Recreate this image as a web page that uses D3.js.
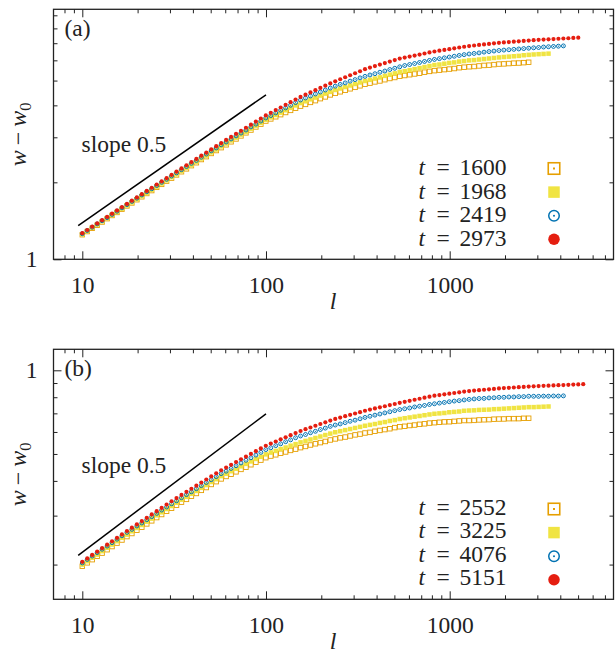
<!DOCTYPE html>
<html>
<head>
<meta charset="utf-8">
<script src="https://cdn.jsdelivr.net/npm/d3@7"></script>
<style>
  body { margin: 0; background: #fff; }
</style>
</head>
<body>
<script>
'use strict';

// system size l, shared by every series (each series stops at its own last point)
const lValues = [
  10, 10.64, 11.32, 12.05, 12.82, 13.65, 14.52, 15.45, 16.44, 17.50,
  18.62, 19.82, 21.09, 22.44, 23.88, 25.41, 27.04, 28.77, 30.62, 32.58,
  34.67, 36.90, 39.26, 41.78, 44.46, 47.32, 50.35, 53.58, 57.02, 60.67,
  64.57, 68.71, 73.11, 77.80, 82.79, 88.10, 93.76, 99.77, 106.2, 113.0,
  120.2, 127.9, 136.1, 144.9, 154.2, 164.1, 174.6, 185.8, 197.7, 210.4,
  223.9, 238.2, 253.5, 269.8, 287.1, 305.5, 325.1, 345.9, 368.1, 391.7,
  416.9, 443.6, 472.1, 502.3, 534.6, 568.9, 605.3, 644.2, 685.5, 729.4,
  776.2, 826.0, 879.0, 935.4, 995.4, 1059, 1127, 1199, 1276, 1358,
  1445, 1538, 1637, 1742, 1854, 1972, 2099, 2234, 2377, 2529,
  2692, 2864, 3048, 3243, 3451, 3673, 3908, 4159, 4426, 4710,
  5012, 5333
];

// panel (a): w - w0
const wA1600 = [
  1.248, 1.284, 1.323, 1.359, 1.399, 1.442, 1.484, 1.525, 1.571, 1.617,
  1.661, 1.710, 1.756, 1.809, 1.857, 1.912, 1.964, 2.022, 2.077, 2.138,
  2.200, 2.258, 2.324, 2.386, 2.456, 2.520, 2.594, 2.663, 2.733, 2.804,
  2.881, 2.956, 3.038, 3.123, 3.203, 3.293, 3.378, 3.473, 3.540, 3.609,
  3.679, 3.751, 3.823, 3.898, 3.972, 4.035, 4.108, 4.173, 4.249, 4.316,
  4.394, 4.458, 4.519, 4.580, 4.643, 4.705, 4.770, 4.836, 4.886, 4.940,
  4.983, 5.039, 5.095, 5.141, 5.198, 5.233, 5.270, 5.306, 5.343, 5.393,
  5.431, 5.467, 5.493, 5.519, 5.546, 5.573, 5.614, 5.641, 5.662, 5.676,
  5.704, 5.731, 5.745, 5.774, 5.801, 5.810, 5.829, 5.849, 5.856, 5.876,
  5.896
];
const wA1968 = [
  1.253, 1.290, 1.329, 1.368, 1.409, 1.448, 1.491, 1.532, 1.578, 1.624,
  1.669, 1.718, 1.768, 1.817, 1.870, 1.925, 1.978, 2.036, 2.096, 2.153,
  2.215, 2.279, 2.340, 2.408, 2.478, 2.544, 2.618, 2.687, 2.765, 2.836,
  2.915, 2.990, 3.073, 3.152, 3.240, 3.331, 3.417, 3.513, 3.589, 3.668,
  3.747, 3.829, 3.912, 3.998, 4.083, 4.148, 4.223, 4.290, 4.368, 4.447,
  4.516, 4.594, 4.656, 4.719, 4.784, 4.849, 4.915, 4.982, 5.034, 5.090,
  5.146, 5.216, 5.274, 5.334, 5.406, 5.442, 5.493, 5.543, 5.595, 5.647,
  5.700, 5.751, 5.778, 5.820, 5.861, 5.889, 5.933, 5.961, 5.997, 6.013,
  6.043, 6.071, 6.100, 6.130, 6.159, 6.183, 6.203, 6.224, 6.246, 6.282,
  6.303, 6.325, 6.342, 6.356, 6.373
];
const wA2419 = [
  1.259, 1.296, 1.335, 1.375, 1.415, 1.455, 1.498, 1.542, 1.589, 1.636,
  1.684, 1.734, 1.785, 1.838, 1.887, 1.943, 2.000, 2.055, 2.116, 2.178,
  2.241, 2.305, 2.373, 2.436, 2.507, 2.579, 2.654, 2.725, 2.803, 2.875,
  2.955, 3.038, 3.116, 3.203, 3.293, 3.377, 3.472, 3.570, 3.647, 3.736,
  3.826, 3.909, 4.003, 4.100, 4.197, 4.274, 4.352, 4.431, 4.511, 4.593,
  4.675, 4.755, 4.831, 4.897, 4.975, 5.042, 5.123, 5.193, 5.259, 5.318,
  5.389, 5.449, 5.522, 5.585, 5.660, 5.725, 5.778, 5.831, 5.886, 5.940,
  5.996, 6.049, 6.092, 6.136, 6.180, 6.224, 6.270, 6.315, 6.353, 6.384,
  6.415, 6.460, 6.491, 6.524, 6.555, 6.580, 6.601, 6.624, 6.647, 6.670,
  6.693, 6.716, 6.734, 6.764, 6.782, 6.799, 6.815, 6.833
];
const wA2973 = [
  1.265, 1.302, 1.341, 1.381, 1.422, 1.465, 1.508, 1.553, 1.600, 1.647,
  1.696, 1.746, 1.797, 1.851, 1.905, 1.961, 2.019, 2.079, 2.140, 2.203,
  2.267, 2.332, 2.400, 2.470, 2.542, 2.615, 2.691, 2.769, 2.849, 2.929,
  3.010, 3.095, 3.181, 3.270, 3.362, 3.456, 3.553, 3.653, 3.741, 3.832,
  3.924, 4.019, 4.115, 4.215, 4.315, 4.404, 4.494, 4.586, 4.680, 4.776,
  4.873, 4.968, 5.059, 5.151, 5.246, 5.341, 5.439, 5.539, 5.622, 5.698,
  5.774, 5.852, 5.931, 6.012, 6.093, 6.149, 6.206, 6.263, 6.321, 6.380,
  6.440, 6.497, 6.543, 6.590, 6.637, 6.685, 6.734, 6.782, 6.823, 6.856,
  6.890, 6.922, 6.955, 6.990, 7.023, 7.050, 7.073, 7.097, 7.122, 7.147,
  7.171, 7.196, 7.215, 7.231, 7.250, 7.268, 7.286, 7.305, 7.321, 7.340,
  7.358
];

// panel (b): w - w0
const wB2552 = [
  0.1972, 0.2029, 0.2083, 0.2142, 0.2199, 0.2262, 0.2322, 0.2389, 0.2451, 0.2522,
  0.2587, 0.2659, 0.2726, 0.2801, 0.2873, 0.2952, 0.3028, 0.3112, 0.3190, 0.3269,
  0.3354, 0.3433, 0.3522, 0.3605, 0.3699, 0.3786, 0.3884, 0.3975, 0.4066, 0.4150,
  0.4226, 0.4312, 0.4400, 0.4480, 0.4573, 0.4667, 0.4751, 0.4848, 0.4913, 0.4965,
  0.5030, 0.5083, 0.5149, 0.5204, 0.5269, 0.5322, 0.5385, 0.5439, 0.5493, 0.5546,
  0.5614, 0.5663, 0.5714, 0.5752, 0.5804, 0.5856, 0.5895, 0.5949, 0.5980, 0.6035,
  0.6077, 0.6119, 0.6162, 0.6220, 0.6264, 0.6289, 0.6329, 0.6354, 0.6393, 0.6418,
  0.6458, 0.6479, 0.6501, 0.6522, 0.6530, 0.6551, 0.6574, 0.6596, 0.6596, 0.6605,
  0.6628, 0.6637, 0.6646, 0.6670, 0.6678, 0.6682, 0.6699, 0.6700, 0.6701, 0.6719,
  0.6722
];
const wB3225 = [
  0.1999, 0.2057, 0.2117, 0.2172, 0.2235, 0.2299, 0.2360, 0.2428, 0.2497, 0.2563,
  0.2635, 0.2709, 0.2777, 0.2854, 0.2926, 0.3008, 0.3084, 0.3170, 0.3249, 0.3338,
  0.3424, 0.3505, 0.3596, 0.3680, 0.3776, 0.3865, 0.3965, 0.4058, 0.4161, 0.4246,
  0.4334, 0.4423, 0.4514, 0.4606, 0.4701, 0.4798, 0.4885, 0.4984, 0.5062, 0.5128,
  0.5206, 0.5274, 0.5354, 0.5424, 0.5504, 0.5572, 0.5639, 0.5708, 0.5778, 0.5848,
  0.5919, 0.5985, 0.6039, 0.6093, 0.6148, 0.6203, 0.6259, 0.6316, 0.6363, 0.6407,
  0.6467, 0.6512, 0.6573, 0.6619, 0.6681, 0.6724, 0.6766, 0.6809, 0.6850, 0.6893,
  0.6936, 0.6975, 0.6998, 0.7021, 0.7062, 0.7085, 0.7109, 0.7150, 0.7166, 0.7177,
  0.7201, 0.7211, 0.7221, 0.7247, 0.7256, 0.7276, 0.7294, 0.7312, 0.7331, 0.7350,
  0.7370, 0.7371, 0.7384, 0.7397, 0.7409
];
const wB4076 = [
  0.2027, 0.2086, 0.2146, 0.2208, 0.2271, 0.2331, 0.2398, 0.2468, 0.2538, 0.2611,
  0.2678, 0.2753, 0.2822, 0.2900, 0.2974, 0.3056, 0.3141, 0.3222, 0.3310, 0.3392,
  0.3480, 0.3570, 0.3654, 0.3749, 0.3846, 0.3946, 0.4039, 0.4143, 0.4248, 0.4335,
  0.4435, 0.4536, 0.4640, 0.4746, 0.4844, 0.4955, 0.5068, 0.5183, 0.5264, 0.5357,
  0.5439, 0.5535, 0.5620, 0.5719, 0.5803, 0.5875, 0.5960, 0.6033, 0.6121, 0.6194,
  0.6285, 0.6354, 0.6411, 0.6483, 0.6557, 0.6616, 0.6691, 0.6767, 0.6834, 0.6897,
  0.6961, 0.7026, 0.7092, 0.7158, 0.7224, 0.7271, 0.7317, 0.7380, 0.7425, 0.7472,
  0.7536, 0.7578, 0.7621, 0.7663, 0.7708, 0.7750, 0.7777, 0.7822, 0.7858, 0.7887,
  0.7914, 0.7924, 0.7954, 0.7964, 0.7993, 0.7996, 0.8016, 0.8018, 0.8038, 0.8041,
  0.8064, 0.8063, 0.8059, 0.8073, 0.8068, 0.8081, 0.8078, 0.8091
];
const wB5151 = [
  0.2046, 0.2105, 0.2166, 0.2228, 0.2292, 0.2358, 0.2426, 0.2496, 0.2567, 0.2641,
  0.2715, 0.2791, 0.2868, 0.2947, 0.3029, 0.3113, 0.3200, 0.3289, 0.3379, 0.3471,
  0.3561, 0.3653, 0.3748, 0.3845, 0.3945, 0.4047, 0.4152, 0.4259, 0.4367, 0.4467,
  0.4570, 0.4674, 0.4781, 0.4890, 0.5003, 0.5117, 0.5234, 0.5353, 0.5449, 0.5545,
  0.5643, 0.5743, 0.5844, 0.5947, 0.6049, 0.6138, 0.6226, 0.6317, 0.6409, 0.6501,
  0.6596, 0.6684, 0.6760, 0.6836, 0.6914, 0.6992, 0.7071, 0.7152, 0.7223, 0.7289,
  0.7357, 0.7425, 0.7495, 0.7565, 0.7635, 0.7702, 0.7768, 0.7835, 0.7901, 0.7969,
  0.8037, 0.8101, 0.8147, 0.8192, 0.8240, 0.8285, 0.8333, 0.8381, 0.8420, 0.8451,
  0.8480, 0.8511, 0.8543, 0.8573, 0.8604, 0.8628, 0.8649, 0.8671, 0.8693, 0.8716,
  0.8740, 0.8760, 0.8776, 0.8791, 0.8806, 0.8820, 0.8837, 0.8851, 0.8867, 0.8881,
  0.8898, 0.8913
];

const timesA = ['1600', '1968', '2419', '2973'];
const timesB = ['2552', '3225', '4076', '5151'];

// reference lines with slope 0.5, [l, w] end points
const slopeLineA = [[9.5, 1.355], [100, 4.40]];
const slopeLineB = [[9.5, 0.216], [100, 0.697]];

// ticks
const xMajorTicks = [10, 100, 1000];
const xMinorTicks = [8, 9, 20, 30, 40, 50, 60, 70, 80, 90,
  200, 300, 400, 500, 600, 700, 800, 900, 2000, 3000, 4000, 5000, 6000, 7000];
const yMajorTicksA = [1];
const yMinorTicksA = [2, 3, 4, 5, 6, 7, 8, 9];
const yMajorTicksB = [1];
const yMinorTicksB = [0.2, 0.3, 0.4, 0.5, 0.6, 0.7, 0.8, 0.9];

// marker styles, same order as the legend
const markerKinds = ['openSquare', 'square', 'openCircle', 'circle'];
const markerColors = ['#E69F00', '#F0E442', '#0072B2', '#E51E10'];

const width = 615, height = 654;
const plotLeft = 53.5, plotRight = 613.5;
const ink = '#222';
const fontSize = 23.5;
const serif = '"Liberation Serif", "Times New Roman", Times, serif';

const svg = d3.select('body').append('svg')
  .attr('width', width)
  .attr('height', height)
  .attr('font-family', serif)
  .style('display', 'block');

const x = d3.scaleLog()
  .domain([6.97, 7794])
  .range([plotLeft, plotRight]);

function drawMarker(g, kind, color, cx, cy, size, legend) {
  const h = size / 2;
  if (kind === 'openSquare') {
    g.append('rect')
      .attr('x', cx - h).attr('y', cy - h)
      .attr('width', size).attr('height', size)
      .attr('fill', 'none').attr('stroke', color)
      .attr('stroke-width', legend ? 1.6 : 0.9);
    if (legend) {
      g.append('rect').attr('x', cx - 1).attr('y', cy - 1)
        .attr('width', 2).attr('height', 2).attr('fill', color);
    }
  } else if (kind === 'square') {
    g.append('rect')
      .attr('x', cx - h).attr('y', cy - h)
      .attr('width', size).attr('height', size)
      .attr('fill', color);
  } else if (kind === 'openCircle') {
    g.append('circle')
      .attr('cx', cx).attr('cy', cy).attr('r', h - (legend ? 0.5 : 0.3))
      .attr('fill', 'none').attr('stroke', color)
      .attr('stroke-width', legend ? 1.5 : 1);
    g.append('circle').attr('cx', cx).attr('cy', cy)
      .attr('r', legend ? 1 : 0.6).attr('fill', color);
  } else {
    g.append('circle')
      .attr('cx', cx).attr('cy', cy).attr('r', h)
      .attr('fill', color);
  }
}

function drawPanel(p) {
  const y = d3.scaleLog()
    .domain(p.yDomain)
    .range([p.bottom, p.top]);

  const g = svg.append('g');

  // data points
  p.series.forEach((w, si) => {
    const pts = w.map((v, i) => [lValues[i], v]);
    const sg = g.append('g');
    pts.forEach(d => drawMarker(sg, markerKinds[si], markerColors[si], x(d[0]), y(d[1]), si === 3 ? 4.2 : 4.5, false));
  });

  // slope 0.5 line
  g.append('path')
    .datum(p.slopeLine)
    .attr('d', d3.line().x(d => x(d[0])).y(d => y(d[1])))
    .attr('fill', 'none')
    .attr('stroke', '#000')
    .attr('stroke-width', 1.5);

  g.append('text')
    .attr('x', 81.5)
    .attr('y', p.slopeTextY)
    .attr('font-size', fontSize)
    .attr('fill', ink)
    .text('slope 0.5');

  // axes: major and minor ticks on all four sides, pointing inwards
  function ticks(axis, values, len, transform, labels) {
    const a = g.append('g')
      .attr('transform', transform)
      .style('color', ink)
      .call(axis.tickValues(values).tickSizeInner(-len).tickSizeOuter(0)
        .tickFormat(labels ? d3.format('d') : ''));
    a.attr('font-family', serif);
    a.select('.domain').remove();
    a.selectAll('line').attr('stroke-width', 1);
    return a;
  }

  const bottomMajor = ticks(d3.axisBottom(x), xMajorTicks, 8, `translate(0,${p.bottom})`, true);
  bottomMajor.selectAll('text')
    .attr('y', 34).attr('dy', null)
    .attr('font-size', fontSize).attr('fill', ink);
  ticks(d3.axisBottom(x), xMinorTicks, 4, `translate(0,${p.bottom})`, false);
  ticks(d3.axisTop(x), xMajorTicks, 8, `translate(0,${p.top})`, false);
  ticks(d3.axisTop(x), xMinorTicks, 4, `translate(0,${p.top})`, false);

  const leftMajor = ticks(d3.axisLeft(y), p.yMajor, 8, `translate(${plotLeft},0)`, true);
  leftMajor.selectAll('text')
    .attr('x', -16).attr('dy', '0.32em')
    .attr('font-size', fontSize).attr('fill', ink);
  ticks(d3.axisLeft(y), p.yMinor, 4, `translate(${plotLeft},0)`, false);
  ticks(d3.axisRight(y), p.yMajor, 8, `translate(${plotRight},0)`, false);
  ticks(d3.axisRight(y), p.yMinor, 4, `translate(${plotRight},0)`, false);

  // frame
  g.append('rect')
    .attr('x', plotLeft).attr('y', p.top)
    .attr('width', plotRight - plotLeft).attr('height', p.bottom - p.top)
    .attr('fill', 'none').attr('stroke', ink).attr('stroke-width', 1.3);

  // panel tag
  g.append('text')
    .attr('x', 64.5).attr('y', p.top + 26.5)
    .attr('font-size', fontSize).attr('fill', ink)
    .text(p.tag);

  // legend
  p.times.forEach((t, i) => {
    const base = p.legendY + i * 23.6;
    const txt = g.append('text')
      .attr('y', base)
      .attr('font-size', fontSize)
      .attr('fill', ink);
    txt.append('tspan').attr('x', 418.5).style('font-style', 'italic').text('t');
    txt.append('tspan').attr('x', 436.5).text('=');
    txt.append('tspan').attr('x', 459.5).text(t);
    drawMarker(g, markerKinds[i], markerColors[i], 554, base - p.markerLift, 11.5, true);
  });

  // y label
  const yl = g.append('text')
    .attr('transform', `translate(26,${(p.top + p.bottom) / 2}) rotate(-90)`)
    .attr('text-anchor', 'middle')
    .attr('font-size', 24)
    .attr('fill', ink);
  yl.append('tspan').style('font-style', 'italic').text('w');
  yl.append('tspan').attr('dx', 5).text('\u2212');
  yl.append('tspan').attr('dx', 5).style('font-style', 'italic').text('w');
  yl.append('tspan').attr('dy', 5).attr('font-size', 16.5).text('0');

  // x label
  g.append('text')
    .attr('x', 333).attr('y', p.bottom + 50)
    .attr('text-anchor', 'middle')
    .attr('font-size', 24)
    .attr('fill', ink)
    .style('font-style', 'italic')
    .text('l');
}

drawPanel({
  tag: '(a)',
  top: 9.3, bottom: 259.3,
  yDomain: [1, 9.5],
  yMajor: yMajorTicksA, yMinor: yMinorTicksA,
  series: [wA1600, wA1968, wA2419, wA2973],
  times: timesA,
  slopeLine: slopeLineA,
  slopeTextY: 152,
  legendY: 175,
  markerLift: 6.5
});

drawPanel({
  tag: '(b)',
  top: 349.3, bottom: 599.3,
  yDomain: [0.15, 1.19],
  yMajor: yMajorTicksB, yMinor: yMinorTicksB,
  series: [wB2552, wB3225, wB4076, wB5151],
  times: timesB,
  slopeLine: slopeLineB,
  slopeTextY: 472.5,
  legendY: 514.5,
  markerLift: 5.5
});
</script>
</body>
</html>
